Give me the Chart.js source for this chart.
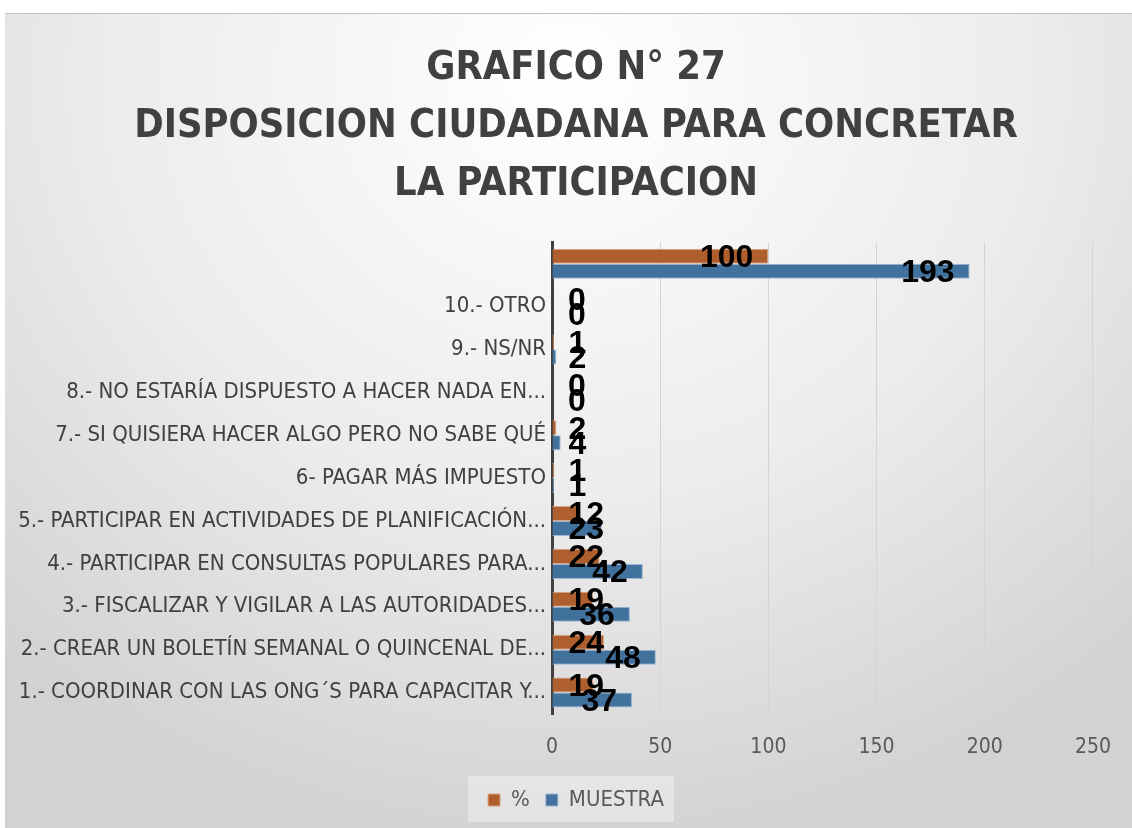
<!DOCTYPE html>
<html>
<head>
<meta charset="utf-8">
<script src="https://cdn.jsdelivr.net/npm/chart.js@4.4.1/dist/chart.umd.min.js"></script>
<style>
  body { margin: 0; background: #ffffff; }
  #wrap {
    position: absolute; left: 5px; top: 13px; width: 1127px; height: 815px;
    border-top: 1px solid #c4c4c4; box-sizing: border-box;
    background: radial-gradient(ellipse 75% 95% at 50% 8%, #ffffff 0%, #ececec 55%, #d2d2d2 100%);
  }
  canvas { position: absolute; left: 0; top: 0; }
</style>
</head>
<body>
<div id="wrap"><canvas id="chart" width="1127" height="815"></canvas></div>
<script>
// categories listed top to bottom, as they appear in the chart
const categories = [
  "",
  "10.- OTRO",
  "9.- NS/NR",
  "8.- NO ESTARÍA DISPUESTO A HACER NADA EN...",
  "7.- SI QUISIERA HACER ALGO PERO NO SABE QUÉ",
  "6- PAGAR MÁS IMPUESTO",
  "5.- PARTICIPAR EN ACTIVIDADES DE PLANIFICACIÓN...",
  "4.- PARTICIPAR EN CONSULTAS POPULARES PARA...",
  "3.- FISCALIZAR Y VIGILAR A LAS AUTORIDADES...",
  "2.- CREAR UN BOLETÍN SEMANAL O QUINCENAL DE...",
  "1.- COORDINAR CON LAS ONG´S PARA CAPACITAR Y..."
];
const porcentaje = [100, 0, 1, 0, 2, 1, 12, 22, 19, 24, 19];
const muestra    = [193, 0, 2, 0, 4, 1, 23, 42, 36, 48, 37];
const titleLines = ["GRAFICO N° 27", "DISPOSICION CIUDADANA PARA CONCRETAR", "LA PARTICIPACION"];

const narrow = "'DejaVu Sans Condensed', 'Liberation Sans Narrow', sans-serif";

// big bold numbers at the inner end of each bar
const barLabels = {
  id: 'barLabels',
  afterDatasetsDraw(chart) {
    const ctx = chart.ctx;
    ctx.save();
    ctx.font = "bold 32px 'Liberation Sans', Arial, sans-serif";
    ctx.fillStyle = '#000000';
    ctx.textBaseline = 'middle';
    ctx.textAlign = 'left';
    chart.data.datasets.forEach((ds, i) => {
      const meta = chart.getDatasetMeta(i);
      meta.data.forEach((bar, j) => {
        const txt = String(ds.data[j]);
        const w = ctx.measureText(txt).width;
        let left = bar.x - 15 - w;
        if (left < bar.base + 16) left = bar.base + 16;
        ctx.fillText(txt, left, bar.y + 2);
      });
    });
    ctx.restore();
  }
};

// title and legend are centred on the whole card, not on the padded area
const recentre = {
  id: 'recentre',
  afterLayout(chart) {
    if (chart.titleBlock) {
      chart.titleBlock.left = 15;
      chart.titleBlock.right = chart.width;
      chart.titleBlock.width = chart.width - 15;
    }
    if (chart.legend) {
      chart.legend.left = 15;
      chart.legend.right = chart.width;
      chart.legend.width = chart.width - 15;
    }
  }
};

// lighter panel behind the legend
const legendPanel = {
  id: 'legendPanel',
  beforeDraw(chart) {
    const lg = chart.legend;
    if (!lg || !lg.legendHitBoxes.length) return;
    const boxes = lg.legendHitBoxes;
    const l = Math.min(...boxes.map(b => b.left)) - 20;
    const r = Math.max(...boxes.map(b => b.left + b.width)) + 10;
    const t = boxes[0].top - 13;
    const h = boxes[0].height + 24;
    const ctx = chart.ctx;
    ctx.save();
    ctx.fillStyle = 'rgba(255,255,255,0.35)';
    ctx.fillRect(l, t, r - l, h);
    ctx.restore();
  }
};

new Chart(document.getElementById('chart'), {
  type: 'bar',
  data: {
    labels: categories,
    datasets: [
      {
        label: '%',
        data: porcentaje,
        backgroundColor: '#ae5f2d',
        borderColor: '#d9a586',
        borderWidth: 1
      },
      {
        label: 'MUESTRA',
        data: muestra,
        backgroundColor: '#41729e',
        borderColor: '#9bb7d3',
        borderWidth: 1
      }
    ]
  },
  options: {
    indexAxis: 'y',
    responsive: false,
    animation: false,
    layout: { padding: { left: 0, right: 26, top: 0, bottom: 8 } },
    datasets: { bar: { categoryPercentage: 0.7, barPercentage: 1.0 } },
    scales: {
      x: {
        min: 0, max: 250,
        ticks: { stepSize: 50, color: '#595959', padding: 21, font: { family: narrow, size: 21 } },
        grid: { color: '#d4d4d4', lineWidth: 1, drawTicks: false },
        border: { display: false },
        afterFit(scale) { scale.height = 59; }
      },
      y: {
        ticks: { color: '#404040', padding: 6, autoSkip: false, font: { family: narrow, size: 22 } },
        grid: { display: false, drawTicks: false },
        border: { display: true, color: '#404040', width: 3 },
        afterFit(scale) { scale.width = 547; }
      }
    },
    plugins: {
      title: {
        display: true,
        text: titleLines,
        color: '#404040',
        font: { family: narrow, size: 39.5, weight: 'bold', lineHeight: 1.47 },
        padding: { top: 26, bottom: 28 }
      },
      legend: {
        position: 'bottom',
        labels: {
          usePointStyle: true, pointStyle: 'rect', boxWidth: 12, boxHeight: 12,
          color: '#595959', padding: 16, font: { family: narrow, size: 22 }
        }
      },
      tooltip: { enabled: false }
    }
  },
  plugins: [recentre, barLabels, legendPanel]
});
</script>
</body>
</html>
